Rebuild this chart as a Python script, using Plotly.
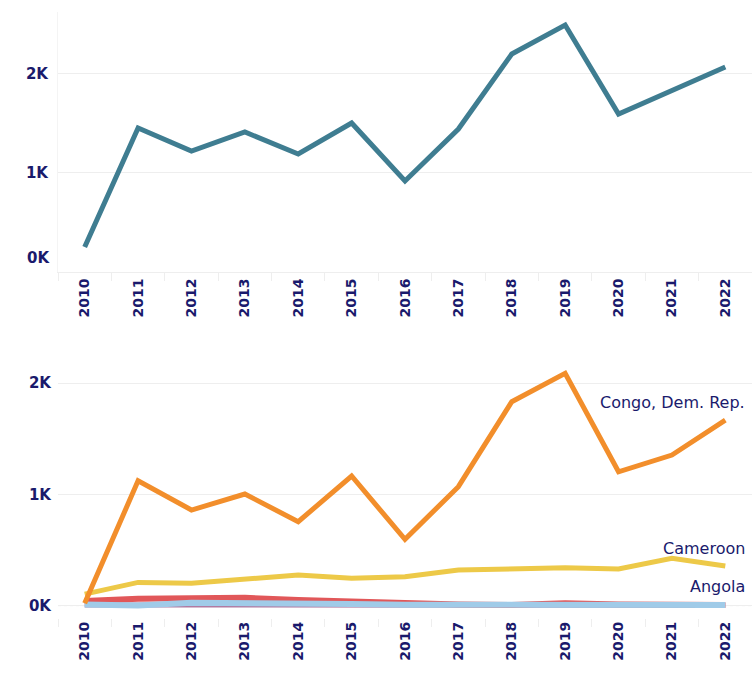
import plotly.graph_objects as go

years = [str(y) for y in range(2010, 2023)]

total = [253, 1455, 1222, 1414, 1192, 1505, 919, 1444, 2202, 2495, 1596, 1838, 2071]

congo = [20, 1122, 859, 1003, 754, 1165, 595, 1069, 1833, 2088, 1203, 1353, 1668]
cameroon = [103, 208, 200, 238, 274, 245, 259, 319, 334, 340, 328, 424, 355]
other_red = [40, 60, 65, 70, 50, 35, 15, 10, 5, 20, 10, 5, 5]
other_purple = [5, 5, 8, 8, 6, 5, 3, 3, 3, 3, 3, 3, 3]
angola = [10, 0, 25, 25, 20, 15, 8, 6, 5, 5, 5, 5, 5]

label_names = ["Congo, Dem. Rep.", "Cameroon", "Angola"]

NAVY = "#1a1a6c"
GRID = "#eeeeee"
FONT = "DejaVu Sans"

fig = go.Figure()

fig.add_trace(go.Scatter(x=years, y=total, mode="lines", name="Total",
                         line=dict(color="#3f7d91", width=5), xaxis="x", yaxis="y"))

fig.add_trace(go.Scatter(x=years, y=other_purple, mode="lines", name="Other 2",
                         line=dict(color="#b07aa1", width=5), xaxis="x2", yaxis="y2"))
fig.add_trace(go.Scatter(x=years, y=other_red, mode="lines", name="Other 1",
                         line=dict(color="#e15759", width=6), xaxis="x2", yaxis="y2"))
fig.add_trace(go.Scatter(x=years, y=angola, mode="lines", name="Angola",
                         line=dict(color="#a0cbe8", width=6), xaxis="x2", yaxis="y2"))
fig.add_trace(go.Scatter(x=years, y=cameroon, mode="lines", name="Cameroon",
                         line=dict(color="#edc948", width=5), xaxis="x2", yaxis="y2"))
fig.add_trace(go.Scatter(x=years, y=congo, mode="lines", name="Congo, Dem. Rep.",
                         line=dict(color="#f28e2b", width=5), xaxis="x2", yaxis="y2"))

xcommon = dict(type="category", range=[-0.5, 12.5], domain=[58 / 752, 1],
               tickangle=-90, tickfont=dict(family=FONT, size=14, color=NAVY, weight="bold"),
               ticks="outside", tickson="boundaries", ticklen=8, tickcolor="#eeeeee",
               showgrid=False, zeroline=False)

fig.update_layout(
    width=752, height=673,
    margin=dict(l=0, r=0, t=0, b=0),
    paper_bgcolor="white", plot_bgcolor="white",
    showlegend=False,
    xaxis=dict(**xcommon, anchor="y", showline=True, linecolor="#eeeeee", linewidth=1),
    yaxis=dict(domain=[1 - 272 / 673, 1 - 12 / 673], range=[0, 2626],
               tickvals=[1000, 2000], ticktext=["1K", "2K"],
               tickfont=dict(family=FONT, size=15, color=NAVY, weight="bold"),
               showgrid=True, gridcolor=GRID, zeroline=False, ticklabelstandoff=6,
               showline=True, linecolor="#f4f4f4"),
    xaxis2=dict(**xcommon, anchor="y2", showline=False),
    yaxis2=dict(domain=[1 - 618 / 673, 1 - 345 / 673], range=[-112, 2343],
                tickvals=[0, 1000, 2000], ticktext=["0K", "1K", "2K"],
                tickfont=dict(family=FONT, size=15, color=NAVY, weight="bold"),
                showgrid=True, gridcolor=GRID, zeroline=False, ticklabelstandoff=6),
)

# 0K label for the top chart (sits slightly above the axis line)
fig.add_annotation(x=0, xref="paper", xanchor="right", xshift=52, y=0, yref="y",
                   yshift=14, text="0K", showarrow=False,
                   font=dict(family=FONT, size=15, color=NAVY, weight="bold"))

# dotted zero line in bottom chart
fig.add_shape(type="line", xref="x2 domain", yref="y2", x0=0, x1=1, y0=0, y1=0,
              line=dict(color="#bbbbbb", width=1, dash="dot"), layer="below")

for name, series in zip(label_names, [congo, cameroon, angola]):
    fig.add_annotation(x=1, xref="paper", xanchor="right", xshift=-5,
                       y=series[-1], yref="y2", yshift=18, text=name, showarrow=False,
                       font=dict(family=FONT, size=16, color=NAVY))

fig.write_html("out.html", config={"displayModeBar": False},
               post_script="document.body.style.margin='0';document.body.style.overflow='hidden';")
